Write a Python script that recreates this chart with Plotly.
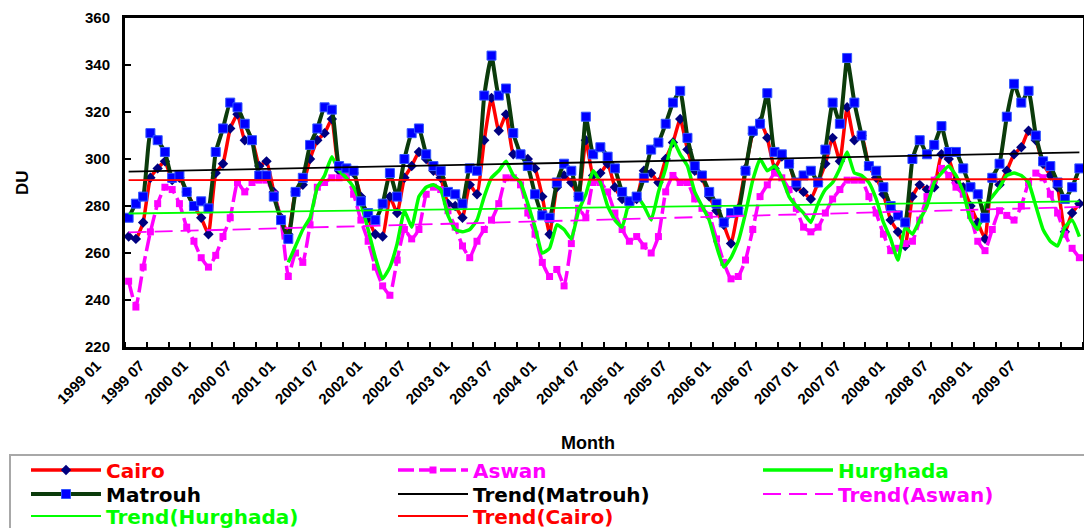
import plotly.graph_objects as go

# ---------------- data ----------------
years = list(range(1999, 2010))
month_numbers = ["01", "02", "03", "04", "05", "06", "07", "08", "09", "10", "11", "12"]
month_labels = [f"{y} {m}" for y in years for m in month_numbers]

cairo = [
    267, 266, 273, 292, 296, 299, 291, 292, 286, 280, 275, 268,
    294, 298, 313, 319, 308, 308, 297, 299, 286, 275, 268, 286,
    289, 300, 308, 311, 317, 295, 295, 294, 284, 275, 268, 267,
    284, 277, 292, 297, 303, 300, 295, 292, 281, 280, 275, 289,
    285, 308, 326, 312, 319, 302, 302, 300, 296, 284, 268, 288,
    293, 290, 284, 308, 293, 294, 298, 288, 283, 281, 283, 295,
    294, 290, 300, 307, 317, 304, 295, 292, 284, 278, 272, 264,
    279, 296, 311, 316, 309, 296, 301, 298, 288, 286, 283, 290,
    298, 309, 299, 322, 308, 310, 297, 292, 285, 274, 269, 263,
    284, 289, 287, 288, 302, 300, 291, 288, 280, 273, 266, 292,
    289, 295, 302, 305, 312, 308, 298, 293, 288, 269, 277, 281,
]

aswan = [
    248, 237, 254, 269, 281, 288, 287, 281, 271, 265, 258, 254,
    259, 267, 275, 290, 286, 290, 291, 291, 285, 274, 250, 260,
    256, 272, 288, 290, 292, 292, 293, 285, 274, 265, 254, 246,
    242, 257, 270, 266, 270, 285, 288, 287, 278, 271, 263, 258,
    265, 270, 274, 281, 292, 292, 289, 277, 268, 256, 250, 253,
    246, 264, 279, 275, 290, 290, 286, 277, 270, 265, 267, 263,
    260, 267, 286, 293, 290, 290, 283, 279, 276, 266, 256, 249,
    250, 257, 270, 284, 289, 294, 292, 287, 279, 271, 269, 271,
    277, 283, 287, 291, 291, 291, 284, 277, 268, 261, 262, 264,
    265, 274, 284, 291, 296, 293, 288, 285, 276, 265, 261, 270,
    278, 276, 274, 280, 290, 294, 292, 285, 277, 268, 262, 258,
]

hurghada = [
    None, None, None, None, None, None, None, None, None, None, None, None,
    None, None, None, None, None, None, None, None, None, None, 256, 263,
    270, 275, 288, 293, 301, 295, 292, 288, 281, 270, 258, 249,
    254, 264, 278, 271, 284, 288, 289, 287, 276, 270, 269, 270,
    274, 284, 292, 295, 299, 293, 290, 281, 271, 260, 262, 272,
    270, 266, 278, 285, 295, 290, 280, 274, 271, 282, 284, 280,
    274, 286, 296, 308, 302, 297, 286, 280, 274, 263, 254, 258,
    265, 277, 291, 300, 295, 297, 292, 284, 280, 277, 273, 281,
    287, 290, 296, 303, 294, 293, 290, 283, 273, 266, 257, 271,
    268, 274, 280, 290, 294, 297, 293, 286, 274, 270, 280, 284,
    288, 293, 294, 293, 290, 280, 270, 265, 263, 271, 274, 267,
]

matrouh = [
    275, 281, 284, 311, 308, 303, 292, 293, 286, 280, 282, 279,
    303, 313, 324, 322, 315, 308, 293, 293, 284, 274, 266, 286,
    292, 306, 313, 322, 321, 297, 296, 295, 282, 277, 274, 281,
    294, 284, 300, 311, 313, 302, 297, 295, 286, 285, 281, 296,
    295, 327, 344, 327, 330, 311, 302, 297, 285, 276, 275, 290,
    298, 295, 284, 318, 302, 305, 301, 296, 286, 282, 284, 292,
    304, 307, 315, 324, 329, 309, 297, 293, 286, 281, 273, 277,
    278, 295, 312, 315, 328, 303, 302, 298, 290, 293, 295, 290,
    304, 324, 315, 343, 324, 310, 297, 295, 288, 280, 276, 273,
    300, 308, 302, 306, 314, 303, 303, 296, 288, 285, 275, 292,
    298, 318, 332, 324, 329, 310, 299, 297, 290, 283, 288, 296,
]

# linear trend lines: value at first month, value at last month
trend_matrouh = [294.6, 302.8]
trend_aswan = [268.8, 279.6]
trend_hurghada = [276.8, 282.0]
trend_cairo = [291.0, 291.4]

# ---------------- geometry (page has an 8px body margin) ----------------
W, H = 1084, 520
ML, MT, PW, PH = 117, 10, 958, 329
MR, MB = W - ML - PW, H - MT - PH
PB = MT + PH  # plot bottom in figure px


def px_x(px):
    return (px - ML) / PW


def px_y(py):
    return (PB - py) / PH


# ---------------- figure ----------------
x = list(range(len(month_labels)))
x_ends = [x[0], x[-1]]

RED = "#FF0000"
MAGENTA = "#FF00FF"
GREEN = "#00FF00"
DARKGREEN = "#0B3B0B"
BLUE = "#0000FF"
NAVY = "#000080"


def lab(text, color):
    return f"<b><span style='color:{color}'>{text}</span></b>"


fig = go.Figure()

fig.add_trace(go.Scatter(
    x=x, y=cairo, name=lab("Cairo", RED), mode="lines+markers", legend="legend",
    line=dict(color=RED, width=3.5, shape="spline", smoothing=0.4),
    marker=dict(symbol="diamond", size=8, color=NAVY, line=dict(width=0)),
))
fig.add_trace(go.Scatter(
    x=x, y=aswan, name=lab("Aswan", MAGENTA), mode="lines+markers", legend="legend2",
    line=dict(color=MAGENTA, width=3.5, dash="16px,5px", shape="spline", smoothing=0.4),
    marker=dict(symbol="square", size=7, color=MAGENTA, line=dict(width=0)),
))
fig.add_trace(go.Scatter(
    x=x, y=hurghada, name=lab("Hurghada", GREEN), mode="lines", legend="legend3",
    line=dict(color=GREEN, width=3.5, shape="spline", smoothing=0.4),
))
fig.add_trace(go.Scatter(
    x=x, y=matrouh, name=lab("Matrouh", "#000000"), mode="lines+markers", legend="legend4",
    line=dict(color=DARKGREEN, width=4, shape="spline", smoothing=0.4),
    marker=dict(symbol="square", size=9, color=BLUE, line=dict(width=1, color="#3355FF")),
))
fig.add_trace(go.Scatter(
    x=x_ends, y=trend_matrouh, name=lab("Trend(Matrouh)", "#000000"), mode="lines",
    legend="legend5", line=dict(color="#000000", width=1.8),
))
fig.add_trace(go.Scatter(
    x=x_ends, y=trend_aswan, name=lab("Trend(Aswan)", MAGENTA), mode="lines",
    legend="legend6", line=dict(color=MAGENTA, width=1.8, dash="18px,8px"),
))
fig.add_trace(go.Scatter(
    x=x_ends, y=trend_hurghada, name=lab("Trend(Hurghada)", GREEN), mode="lines",
    legend="legend7", line=dict(color=GREEN, width=1.8),
))
fig.add_trace(go.Scatter(
    x=x_ends, y=trend_cairo, name=lab("Trend(Cairo)", RED), mode="lines",
    legend="legend8", line=dict(color=RED, width=1.8),
))

FONT = "Arial, 'Liberation Sans', sans-serif"
LEG_FONT = dict(size=20, family="'DejaVu Sans', Arial, sans-serif")

COLS = [18, 385, 750]          # legend column left edges (figure px)
ROWS = [462, 486, 508]         # legend row centres (figure px)


def legend_at(col, row):
    return dict(
        orientation="v", xref="container", yref="container",
        x=COLS[col] / W, xanchor="left", y=1 - ROWS[row] / H, yanchor="middle",
        itemwidth=70, borderwidth=0, bgcolor="rgba(0,0,0,0)",
        font=LEG_FONT, traceorder="normal", tracegroupgap=0,
    )


fig.update_layout(
    width=W, height=H,
    margin=dict(l=ML, r=MR, t=MT, b=MB, autoexpand=False),
    paper_bgcolor="white", plot_bgcolor="white",
    font=dict(family=FONT, size=15, color="black"),
    showlegend=True,
    legend=legend_at(0, 0), legend2=legend_at(1, 0), legend3=legend_at(2, 0),
    legend4=legend_at(0, 1), legend5=legend_at(1, 1), legend6=legend_at(2, 1),
    legend7=legend_at(0, 2), legend8=legend_at(1, 2),
    shapes=[dict(
        type="rect", xref="paper", yref="paper",
        x0=px_x(2), x1=px_x(1095), y0=px_y(447), y1=px_y(530),
        line=dict(color="#A8A8A8", width=2), fillcolor="rgba(0,0,0,0)", layer="below",
    )],
    annotations=[
        dict(text="<b>Month</b>", xref="paper", yref="paper", x=px_x(580), y=px_y(435),
             xanchor="center", yanchor="middle", showarrow=False,
             font=dict(size=18, family=FONT, color="black")),
        dict(text="<b>DU</b>", xref="paper", yref="paper", x=px_x(14), y=px_y(175),
             xanchor="center", yanchor="middle", showarrow=False, textangle=-90,
             font=dict(size=17, family=FONT, color="black")),
    ],
    xaxis=dict(
        range=[-0.5, 131.5], tickmode="array", automargin=False,
        tickvals=x[::6], ticktext=[f"<b>{t}</b>" for t in month_labels[::6]],
        tickangle=-45, ticks="", showline=True, linecolor="black", linewidth=3,
        mirror=True, showgrid=False, zeroline=False,
        ticklabelshift=-32, ticklabelstandoff=1,
        tickfont=dict(size=15, family=FONT, color="black"),
        minor=dict(tick0=-0.5, dtick=3, ticks="inside", ticklen=5,
                   tickwidth=2, tickcolor="black", showgrid=False),
    ),
    yaxis=dict(
        range=[220, 360], tickmode="linear", tick0=220, dtick=20, automargin=False,
        ticks="inside", ticklen=6, tickwidth=2, tickcolor="black",
        showline=True, linecolor="black", linewidth=3, mirror=True,
        showgrid=False, zeroline=False, ticklabelstandoff=9,
        tickfont=dict(size=15, family=FONT, color="black"),
        tickprefix="<b>", ticksuffix="</b>",
    ),
)

fig.write_html("out.html")
